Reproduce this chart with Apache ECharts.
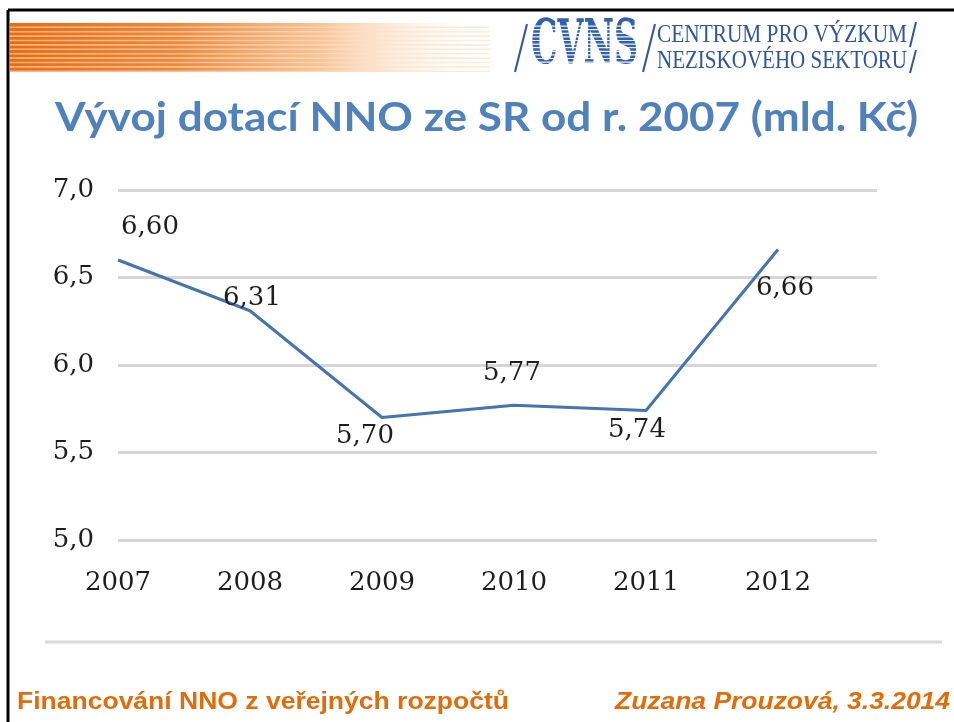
<!DOCTYPE html>
<html>
<head>
<meta charset="utf-8">
<script src="https://cdn.jsdelivr.net/npm/echarts/dist/echarts.min.js"></script>
<style>
html, body { margin: 0; padding: 0; background: #fff; }
#chart { width: 954px; height: 722px; }
</style>
</head>
<body>
<div id="chart"></div>
<script>
const years = [2007, 2008, 2009, 2010, 2011, 2012]
const values = [6.60, 6.31, 5.70, 5.77, 5.74, 6.66]
const yMin = 5.0
const yMax = 7.0
const yStep = 0.5
// label placement relative to its point, [dx, dy]
const labelOffsets = [[32, -33], [2, -13], [-17, 19], [-2, -32], [-9, 20], [7, 39]]

const titleText = 'Vývoj dotací NNO ze SR od r. 2007 (mld. Kč)'
const footerLeft = 'Financování NNO z veřejných rozpočtů'
const footerRight = 'Zuzana Prouzová, 3.3.2014'
const logoLine1 = 'CENTRUM PRO VÝZKUM'
const logoLine2 = 'NEZISKOVÉHO SEKTORU'

const ctx = document.createElement('canvas').getContext('2d')
// scale factor so a text fills a given width
const fitX = (text, font, width) => {
  ctx.font = font
  return width / ctx.measureText(text).width
}
const comma = (v, d) => v.toFixed(d).replace('.', ',')

const orange = '#e36c0a'
const blue = '#4f81bd'
const logoBlue = '#2f56a3'
const ink = '#1e1e1e'

const graphics = []

// slide frame
graphics.push({ type: 'line', shape: { x1: 8, y1: 10, x2: 954, y2: 10 }, style: { stroke: '#000', lineWidth: 3 } })
graphics.push({ type: 'line', shape: { x1: 8, y1: 10, x2: 8, y2: 722 }, style: { stroke: '#000', lineWidth: 3 } })

// orange stripes, top left
graphics.push({
  type: 'rect',
  shape: { x: 10, y: 23, width: 480, height: 49 },
  style: {
    fill: new echarts.graphic.LinearGradient(0, 0, 1, 0, [
      { offset: 0, color: 'rgba(236,106,16,1)' },
      { offset: 0.35, color: 'rgba(240,130,50,0.95)' },
      { offset: 0.65, color: 'rgba(246,170,110,0.7)' },
      { offset: 1, color: 'rgba(255,255,255,0)' }
    ])
  }
})
for (let i = 0; i < 11; i++) {
  graphics.push({
    type: 'rect',
    shape: { x: 10, y: 26.5 + i * 4.4, width: 480, height: 1.6 },
    style: { fill: 'rgba(255,225,195,0.65)' }
  })
}

// CVNS logo
graphics.push({ type: 'line', shape: { x1: 527, y1: 24, x2: 515, y2: 72 }, style: { stroke: logoBlue, lineWidth: 2 } })
graphics.push({ type: 'line', shape: { x1: 655, y1: 24, x2: 643, y2: 72 }, style: { stroke: logoBlue, lineWidth: 2 } })
graphics.push({ type: 'line', shape: { x1: 916, y1: 22, x2: 910, y2: 47 }, style: { stroke: logoBlue, lineWidth: 2 } })
graphics.push({ type: 'line', shape: { x1: 916, y1: 50, x2: 910, y2: 73 }, style: { stroke: logoBlue, lineWidth: 2 } })
graphics.push({
  type: 'text', x: 531, y: 47,
  scaleX: fitX('CVNS', 'bold 60px "DejaVu Serif"', 107), scaleY: 1.02,
  style: { text: 'CVNS', fontFamily: 'DejaVu Serif', fontWeight: 'bold', fontSize: 60, fill: '#3460b0', align: 'left', verticalAlign: 'middle' }
})
for (let i = 0; i < 13; i++) {
  graphics.push({
    type: 'rect',
    shape: { x: 528, y: 25.5 + i * 3.6, width: 114, height: 1.2 },
    style: { fill: 'rgba(255,255,255,0.9)' }
  })
}
graphics.push({
  type: 'text', x: 657, y: 35,
  scaleX: fitX(logoLine1, '26px "Liberation Serif"', 250),
  style: { text: logoLine1, fontFamily: 'Liberation Serif', fontSize: 26, fill: logoBlue, align: 'left', verticalAlign: 'middle' }
})
graphics.push({
  type: 'text', x: 657, y: 61,
  scaleX: fitX(logoLine2, '26px "Liberation Serif"', 250),
  style: { text: logoLine2, fontFamily: 'Liberation Serif', fontSize: 26, fill: logoBlue, align: 'left', verticalAlign: 'middle' }
})

// title
graphics.push({
  type: 'text', x: 55, y: 118,
  scaleX: fitX(titleText, 'bold 40px Lato', 863),
  style: { text: titleText, fontFamily: 'Lato', fontWeight: 'bold', fontSize: 40, fill: blue, align: 'left', verticalAlign: 'middle' }
})

// bottom rule of the pasted chart picture
graphics.push({ type: 'line', shape: { x1: 45, y1: 642, x2: 942, y2: 642 }, style: { stroke: '#d9d9d9', lineWidth: 3 } })

// footer
graphics.push({
  type: 'text', x: 17, y: 702,
  scaleX: fitX(footerLeft, 'bold 24px "Liberation Sans"', 492),
  style: { text: footerLeft, fontFamily: 'Liberation Sans', fontWeight: 'bold', fontSize: 24, fill: orange, align: 'left', verticalAlign: 'middle' }
})
graphics.push({
  type: 'text', x: 950, y: 702,
  scaleX: fitX(footerRight, 'italic bold 24px "Liberation Sans"', 335),
  style: { text: footerRight, fontFamily: 'Liberation Sans', fontWeight: 'bold', fontStyle: 'italic', fontSize: 24, fill: orange, align: 'right', verticalAlign: 'middle' }
})

const chart = echarts.init(document.getElementById('chart'))
const option = {
  animation: false,
  backgroundColor: '#fff',
  grid: { left: 118, right: 77, top: 190, bottom: 182 },
  xAxis: {
    type: 'value',
    min: years[0],
    max: years[0] + 5.75,
    interval: 1,
    axisLine: { show: false },
    axisTick: { show: false },
    splitLine: { show: false },
    axisLabel: {
      margin: 30,
      fontFamily: 'DejaVu Serif',
      fontSize: 26,
      color: ink,
      formatter: (v) => (Number.isInteger(v) && years.includes(v) ? String(v) : '')
    }
  },
  yAxis: {
    type: 'value',
    min: yMin,
    max: yMax,
    interval: yStep,
    axisLine: { show: false },
    axisTick: { show: false },
    splitLine: { lineStyle: { color: '#d6d6d6', width: 3 } },
    axisLabel: {
      margin: 24,
      fontFamily: 'DejaVu Serif',
      fontSize: 26,
      color: ink,
      formatter: (v) => comma(v, 1)
    }
  },
  series: [
    {
      type: 'line',
      data: years.map((y, i) => ({ value: [y, values[i]], label: { offset: labelOffsets[i] } })),
      symbol: 'circle',
      symbolSize: 0,
      showSymbol: true,
      silent: true,
      lineStyle: { color: '#4674b2', width: 3 },
      itemStyle: { color: '#4674b2' },
      label: {
        show: true,
        position: 'inside',
        fontFamily: 'DejaVu Serif',
        fontSize: 26,
        color: ink,
        textBorderWidth: 0,
        formatter: (p) => comma(p.value[1], 2)
      }
    }
  ],
  graphic: graphics
}
option && chart.setOption(option)
</script>
</body>
</html>
